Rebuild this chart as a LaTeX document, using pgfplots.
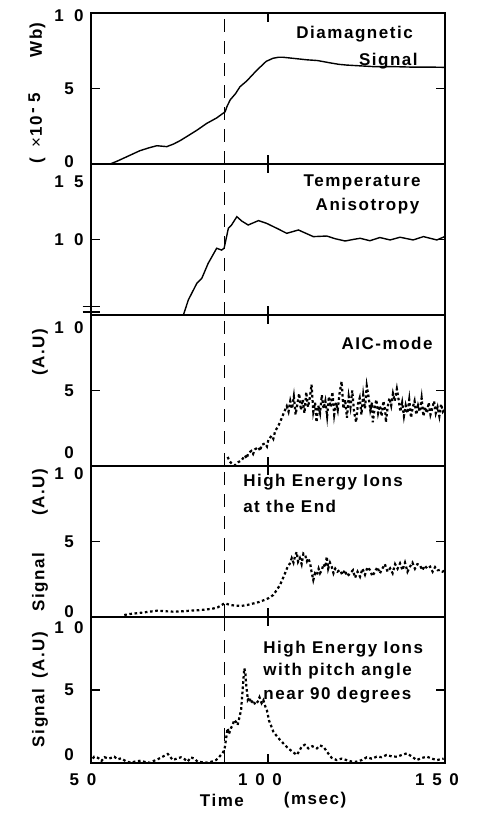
\documentclass[border=0pt]{standalone}
\usepackage{fontspec}
\setmainfont{Liberation Sans}[LetterSpace=9]
\usepackage{pgfplots}
\pgfplotsset{compat=1.18}
\pgfplotsset{
 panel/.style={
  scale only axis, width=177pt, xmin=50, xmax=150,
  xtick={50,100,150}, xticklabels={},
  minor xtick={100},
  axis line style={line width=1pt},
  major tick length=0pt,
  minor tick length=4.5pt,
  minor tick style={line width=0.6pt, black},
  tick align=inside,
  anchor=south west,
  clip=false,
  yticklabel style={anchor=center, xshift=-11pt},
 },
 sig/.style={black, line width=0.7pt},
 dots/.style={black, line width=1.1pt, dash pattern=on 1.3pt off 1.3pt},
}
\newcommand{\dashline}{\draw[black, line width=0.6pt, dash pattern=on 6.5pt off 4.5pt] (axis cs:87.6,\pgfkeysvalueof{/pgfplots/ymin}) -- (axis cs:87.6,\pgfkeysvalueof{/pgfplots/ymax});}
\begin{document}
\begin{tikzpicture}[font=\fontsize{8.5}{10}\selectfont\bfseries]
\path[use as bounding box] (0,0) rectangle (239.5pt,408pt);

% Panel 1
\begin{axis}[panel, at={(45.5pt,326pt)}, height=75.5pt, ymin=0, ymax=10,
  ytick={0.15,5,9.85}, yticklabels={0,5,1\hspace{0.6em}0}, minor ytick={5}]
\addplot[sig] coordinates {(55.4,0) (57.5,0.2) (60.1,0.48) (63.8,0.88) (66.5,1.08) (68.6,1.21) (71.4,1.15) (73.3,1.32) (75.2,1.55) (77,1.81) (80,2.25) (82.7,2.69) (85.5,3.05) (87.9,3.46) (88.4,3.8) (89.3,4.24) (90.8,4.65) (92.1,5.12) (94,5.5) (96,6.0) (97.7,6.4) (99.5,6.8) (101.4,7.0) (103,7.07) (104.2,7.07) (107,7.0) (111,6.9) (114,6.85) (117.5,6.7) (120,6.6) (122.3,6.55) (126,6.5) (129.7,6.45) (135,6.45) (140,6.42) (145,6.42) (150,6.4)};
\dashline
\node[anchor=base east, inner sep=0pt] at (axis description cs:0.91,0.834) {Diamagnetic};
\node[anchor=base east, inner sep=0pt] at (axis description cs:0.924,0.649) {Signal};
\node[rotate=90] at (axis description cs:-0.1525,0.47) {(\hspace{0.5em}\textmd{×}10\hspace{0.15em}\raisebox{0.5ex}{-}\hspace{0.3em}\raisebox{0.2ex}{5}\hspace{2.1em}Wb)};
\end{axis}

% Panel 2
\begin{axis}[panel, at={(45.5pt,250.5pt)}, height=75.5pt, ymin=5, ymax=15,
  ytick={10,13.8}, yticklabels={1\hspace{0.6em}0,1\hspace{0.6em}5}, minor ytick={10}]
\addplot[sig] coordinates {(76.1,5.0) (77.5,6.0) (79.9,7.1) (81.3,7.43) (83.1,8.42) (85.5,9.42) (86.9,9.3) (87.6,9.42) (88.8,10.74) (89.7,10.96) (91.2,11.51) (92.6,11.22) (94.4,10.96) (97.3,11.25) (99.6,11.07) (102.5,10.74) (105.3,10.41) (108.6,10.63) (112.8,10.19) (116.6,10.23) (119,10.05) (121.8,9.9) (124,10.0) (126.0,10.08) (128.8,9.92) (131.6,10.13) (134.5,9.97) (137.3,10.15) (141.0,9.97) (143.9,10.19) (147.7,9.97) (150,10.2)};
\dashline
\draw[line width=0.8pt] (axis cs:47.6,5.55) -- (axis cs:52.6,5.55);
\draw[line width=0.8pt] (axis cs:47.6,5.2) -- (axis cs:52.6,5.2);
\node[anchor=base, inner sep=0pt] at (axis description cs:0.766,0.848) {Temperature};
\node[anchor=base, inner sep=0pt] at (axis description cs:0.781,0.689) {Anisotropy};
\end{axis}

% Panel 3
\begin{axis}[panel, at={(45.5pt,175pt)}, height=75.5pt, ymin=0, ymax=10,
  ytick={0.87,5,9.13}, yticklabels={0,5,1\hspace{0.6em}0}, minor ytick={5}]
\addplot[dots] coordinates {(88.6,0.6) (89.2,0.3) (90.0,0.1) (90.7,0.05) (91.6,0.25) (92.6,0.4) (93.5,0.7) (94.0,0.5) (94.4,0.84) (95.3,1.0) (95.8,0.8) (96.3,1.1) (97.3,1.25) (97.8,1.0) (98.2,1.4) (99.2,1.5) (99.7,1.3) (100.1,1.73) (101,2.0) (101.5,1.8) (102,2.29) (103,2.7) (103.9,3.18) (104.6,3.6) (105.3,3.96)
(105.8,3.6) (106.3,4.3) (106.8,3.8) (107.3,4.6) (107.8,3.4) (108.3,4.1) (108.8,4.8) (109.3,3.7) (109.8,4.4) (110.3,3.5) (110.8,4.9) (111.3,3.9) (111.8,4.5) (112.3,5.4) (112.8,3.6) (113.3,4.2) (113.7,2.9) (114.2,4.0) (114.7,3.5) (115.2,4.7) (115.7,3.8) (116.2,4.3) (116.7,3.3) (117.2,4.6) (117.7,3.9) (118.2,4.9) (118.7,3.4) (119.2,4.2) (119.7,3.7) (120.2,4.8) (120.8,5.6) (121.3,3.8) (121.8,4.4) (122.3,3.2) (122.8,4.6) (123.3,3.9) (123.8,5.0) (124.3,3.6) (124.9,2.9) (125.4,4.1) (125.9,4.5) (126.4,3.4) (126.9,4.7) (127.4,3.8) (127.9,5.3) (128.4,4.6) (128.9,3.7) (129.4,4.2) (129.6,2.9) (130.1,3.8) (130.6,4.4) (131.1,3.5) (131.6,4.0) (132.1,3.3) (132.6,4.3) (133.1,3.7) (133.3,2.9) (133.8,3.9) (134.3,4.5) (134.8,4.0) (135.3,4.8) (135.8,4.3) (136.4,5.1) (136.9,4.4) (137.4,3.6) (137.9,4.2) (138.4,3.3) (138.9,4.0) (139.4,3.5) (139.9,4.4) (140.4,3.2) (140.9,3.9) (141.4,4.3) (141.9,3.4) (142.4,4.0) (142.9,3.6) (143.4,4.5) (143.9,3.3) (144.4,3.9) (144.9,3.5) (145.4,4.2) (145.9,3.4) (146.4,3.8) (146.9,4.3) (147.4,3.5) (147.9,3.9) (148.4,3.3) (148.9,4.1) (149.4,3.6) (150,3.8)};
\dashline
\node[anchor=base east, inner sep=0pt] at (axis description cs:0.966,0.773) {AIC-mode};
\node[rotate=90] at (axis description cs:-0.144,0.753) {(A.U)};
\end{axis}

% Panel 4
\begin{axis}[panel, at={(45.5pt,99.5pt)}, height=75.5pt, ymin=0, ymax=10,
  ytick={0.33,5,9.5}, yticklabels={0,5,1\hspace{0.6em}0}, minor ytick={5}]
\addplot[dots] coordinates {(59.4,0.13) (61,0.2) (64.1,0.28) (66.5,0.35) (68.8,0.42) (71,0.38) (73.5,0.35) (76,0.38) (78.2,0.42) (80.5,0.45) (83.0,0.51) (84.5,0.56) (85.8,0.64) (87.0,0.8) (87.7,0.91) (88.6,0.85) (89.5,0.79) (91,0.75) (92.4,0.73) (94.2,0.8) (96.1,0.91) (97.6,1.0) (99.0,1.13) (100.2,1.25) (101.5,1.46) (102.5,1.8) (103.4,2.12) (104.1,2.5) (104.8,2.89) (105.5,3.3) (106.2,3.55) (106.7,3.9) (107.2,3.6) (107.6,4.0) (108.1,4.3) (108.5,3.66) (109.0,3.9) (109.5,3.5) (110.0,4.2) (110.5,4.1) (111.0,3.7) (111.4,3.9) (111.9,3.55) (112.3,3.0) (112.8,2.45) (113.3,2.9) (113.8,2.78) (114.3,3.2) (114.7,2.9) (115.2,3.11) (115.7,3.5) (116.2,3.3) (116.6,4.0) (117.0,3.2) (117.5,3.6) (118.0,3.33) (118.5,2.9) (119.0,3.2) (119.6,3.0) (120.3,3.11) (121,2.8) (121.7,3.1) (122.4,2.7) (123.2,2.89) (124,3.1) (124.6,2.6) (125.3,3.0) (126.0,2.67) (126.7,3.2) (127.4,2.8) (128.1,3.3) (128.8,3.11) (129.5,2.7) (130.2,3.0) (130.9,3.3) (131.6,2.89) (132.3,3.2) (133,3.5) (133.8,3.0) (134.5,3.22) (135.2,2.9) (135.9,3.5) (136.6,3.2) (137.3,3.55) (138,3.1) (138.7,3.6) (139.4,3.0) (140.1,3.33) (140.8,3.6) (141.5,3.2) (142.2,3.5) (142.9,3.44) (143.6,3.1) (144.3,3.4) (145,3.2) (145.8,3.33) (146.5,3.0) (147.2,3.3) (147.9,3.1) (148.6,3.11) (149.3,3.0) (150,3.1)};
\dashline
\node[anchor=base west, inner sep=0pt] at (axis description cs:0.429,0.861) {High Energy Ions};
\node[anchor=base west, inner sep=0pt] at (axis description cs:0.429,0.695) {at the End};
\node[rotate=90] at (axis description cs:-0.144,0.828) {(A.U)};
\node[rotate=90] at (axis description cs:-0.144,0.232) {Signal};
\end{axis}

% Panel 5
\begin{axis}[panel, at={(45.5pt,26.5pt)}, height=73pt, ymin=0, ymax=10,
  ytick={0.55,5,9.25}, yticklabels={0,5,1\hspace{0.6em}0}, minor ytick={5},
  xticklabels={5\hspace{0.45em}0,1\hspace{0.45em}0\hspace{0.45em}0,1\hspace{0.45em}5\hspace{0.45em}0},
  xticklabel style={anchor=center, yshift=-8.5pt, xshift=-4pt}]
\addplot[dots] coordinates {(50.5,0.3) (50.9,0.43) (52,0.35) (53,0.15) (53.8,0.4) (55,0.3) (56.6,0.43) (57.5,0.25) (58.5,0.32) (60,0.1) (61.3,0.02) (62.5,0.1) (64.1,0.16) (65.5,0.05) (66.7,0.02) (67.8,0.15) (68.8,0.25) (70,0.4) (71.7,0.62) (72.3,0.45) (73.1,0.2) (74.2,0.3) (75.4,0.39) (76.5,0.25) (77.3,0.1) (78.2,0.39) (79.2,0.3) (80.1,0.09) (81.5,0.05) (83.0,0.02) (84.2,0.1) (85.3,0.2) (86.0,0.35) (86.7,0.55) (87.2,0.7) (87.7,0.89) (88.1,1.58) (88.6,2.37) (89.0,2.0) (89.5,2.37) (90.0,2.6) (90.5,2.95) (91.0,2.8) (91.4,2.6) (92.0,3.2) (92.4,3.63) (92.9,5.23) (93.3,6.48) (93.6,6.2) (93.8,5.46) (94.1,4.8) (94.3,4.32) (94.8,4.5) (95.2,4.09) (95.8,4.3) (96.4,4.0) (97.1,4.2) (97.6,4.5) (98.2,4.1) (98.7,4.3) (99.2,3.9) (99.7,3.6) (100.3,2.9) (100.8,2.6) (101.5,2.15) (102.3,1.9) (103.4,1.58) (104.5,1.3) (105.7,1.0) (106.8,0.8) (108.1,0.55) (108.8,0.8) (109.5,1.12) (110.4,1.25) (111.4,1.0) (112.5,1.15) (113.8,1.0) (114.7,1.2) (115.6,1.12) (116.3,0.9) (117.0,0.66) (118,0.35) (119.4,0.2) (120.8,0.3) (122.2,0.2) (123.6,0.1) (125.0,0.09) (126.5,0.2) (127.9,0.39) (129.3,0.3) (130.7,0.43) (132.1,0.4) (133.5,0.55) (135,0.45) (136.4,0.43) (137.8,0.55) (139.2,0.66) (140.6,0.45) (142.0,0.2) (143.5,0.35) (144.9,0.43) (146.3,0.3) (147.7,0.2) (149.6,0.3)};
\dashline
\node[anchor=base west, inner sep=0pt] at (axis description cs:0.486,0.753) {High Energy Ions};
\node[anchor=base west, inner sep=0pt] at (axis description cs:0.486,0.596) {with pitch angle};
\node[anchor=base west, inner sep=0pt] at (axis description cs:0.486,0.432) {near 90 degrees};
\node[rotate=90] at (axis description cs:-0.144,0.74) {(A.U)};
\node[rotate=90] at (axis description cs:-0.144,0.31) {Signal};
\node at (axis description cs:0.37,-0.253) {Time};
\node at (axis description cs:0.633,-0.253) {(msec)};
\end{axis}
\end{tikzpicture}
\end{document}
